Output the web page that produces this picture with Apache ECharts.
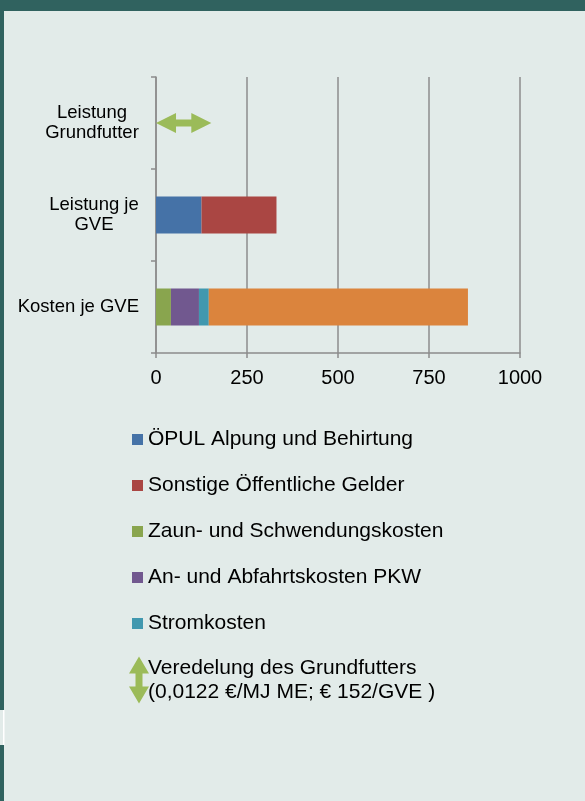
<!DOCTYPE html>
<html>
<head>
<meta charset="utf-8">
<script src="https://cdn.jsdelivr.net/npm/echarts@6/dist/echarts.min.js"></script>
<style>
  html, body { margin: 0; padding: 0; background: #e2ebe9; }
  #chart { width: 585px; height: 801px; }
</style>
</head>
<body>
<div id="chart"></div>
<script>
// Rows, bottom to top on the category axis
const categories = ['Kosten je GVE', 'Leistung je\nGVE', 'Leistung\nGrundfutter'];

// € per GVE
const opulAlpung      = [null, 125, null];
const sonstigeGelder  = [null, 206, null];
const zaunKosten      = [41, null, null];
const pkwKosten       = [77, null, null];
const stromKosten     = [27, null, null];
const weitereKosten   = [712, null, null];
const veredelung      = [null, null, 152];

const xTicks = [0, 250, 500, 750, 1000];

const names = {
  opul: 'ÖPUL Alpung und Behirtung',
  sonst: 'Sonstige Öffentliche Gelder',
  zaun: 'Zaun- und Schwendungskosten',
  pkw: 'An- und Abfahrtskosten PKW',
  strom: 'Stromkosten',
  weitere: 'Weitere Kosten',
  veredelung: 'Veredelung des Grundfutters\n(0,0122 €/MJ ME; € 152/GVE )'
};

const FONT = '"Liberation Sans", Arial, sans-serif';
const BG = '#e2ebe9';
const FRAME = '#30625f';
const GRID = '#8c8c8c';

// horizontal and vertical double arrows
const arrowH = 'path://M0,10 L17,0 L17,6.5 L30,6.5 L30,0 L47,10 L30,20 L30,13.5 L17,13.5 L17,20 Z';
const arrowV = 'path://M10,0 L20,17 L13.5,17 L13.5,30 L20,30 L10,47 L0,30 L6.5,30 L6.5,17 L0,17 Z';

// centre the lines of multi-line category labels inside a right-aligned block
const catFontSize = 18.5;
const ctx = document.createElement('canvas').getContext('2d');
ctx.font = catFontSize + 'px ' + FONT;
const rich = {};
categories.forEach((c, i) => {
  const w = Math.max(...c.split('\n').map(l => ctx.measureText(l).width));
  rich['c' + i] = { width: Math.ceil(w), align: 'center', fontSize: catFontSize, lineHeight: 20, color: '#000', fontFamily: FONT };
});

const chart = echarts.init(document.getElementById('chart'));

function stackBar(name, data, color) {
  return {
    name, type: 'bar', stack: 'total', data, barWidth: 37,
    itemStyle: { color }, emphasis: { disabled: true }
  };
}

chart.setOption({
  backgroundColor: BG,
  animation: false,
  grid: { left: 156, right: 65, top: 77, bottom: 448, containLabel: false },
  xAxis: {
    type: 'value', min: xTicks[0], max: xTicks[xTicks.length - 1], interval: 250,
    axisLine: { show: true, lineStyle: { color: GRID, width: 1.5 } },
    axisTick: { show: true, length: 5, lineStyle: { color: GRID, width: 1.5 } },
    splitLine: { show: true, lineStyle: { color: GRID, width: 1.5 } },
    axisLabel: { fontSize: 20, color: '#000', fontFamily: FONT, margin: 15, formatter: v => String(v) }
  },
  yAxis: {
    type: 'category', data: categories,
    axisLine: { show: true, lineStyle: { color: GRID, width: 1.5 } },
    axisTick: { show: true, length: 5, lineStyle: { color: GRID, width: 1.5 } },
    axisLabel: {
      margin: 17, align: 'right',
      fontSize: catFontSize, color: '#000', fontFamily: FONT,
      formatter: (v, i) => v.indexOf('\n') < 0 ? v : v.split('\n').map(l => '{c' + i + '|' + l + '}').join('\n'),
      rich
    }
  },
  legend: [
    {
      orient: 'vertical', left: 132, top: 429, padding: 0,
      itemWidth: 11, itemHeight: 11, itemGap: 25,
      icon: 'rect', selectedMode: false,
      textStyle: { fontSize: 21, color: '#000', fontFamily: FONT },
      data: [names.opul, names.sonst, names.zaun, names.pkw, names.strom]
    },
    {
      orient: 'vertical', left: 129, top: 656, padding: 0,
      itemWidth: 20, itemHeight: 47, selectedMode: false,
      textStyle: { fontSize: 21, lineHeight: 24, color: '#000', fontFamily: FONT, padding: [0, 0, 0, -6] },
      data: [{ name: names.veredelung, icon: arrowV }]
    }
  ],
  series: [
    stackBar(names.opul, opulAlpung, '#4572a7'),
    stackBar(names.sonst, sonstigeGelder, '#aa4643'),
    stackBar(names.zaun, zaunKosten, '#89a54e'),
    stackBar(names.pkw, pkwKosten, '#71588f'),
    stackBar(names.strom, stromKosten, '#4198af'),
    stackBar(names.weitere, weitereKosten, '#db843d'),
    {
      name: names.veredelung, type: 'pictorialBar', data: veredelung,
      symbol: arrowH, symbolSize: ['100%', 20], symbolPosition: 'start',
      symbolKeepAspect: false,
      itemStyle: { color: '#9bbb59' }, emphasis: { disabled: true }
    }
  ],
  graphic: [
    { type: 'rect', shape: { x: 0, y: 0, width: 585, height: 11 }, style: { fill: FRAME }, silent: true },
    { type: 'rect', shape: { x: 0, y: 11, width: 4, height: 699 }, style: { fill: FRAME }, silent: true },
    { type: 'rect', shape: { x: 3, y: 710, width: 1.5, height: 35 }, style: { fill: '#ffffff' }, silent: true },
    { type: 'rect', shape: { x: 0, y: 745, width: 4, height: 56 }, style: { fill: FRAME }, silent: true }
  ]
});
</script>
</body>
</html>
